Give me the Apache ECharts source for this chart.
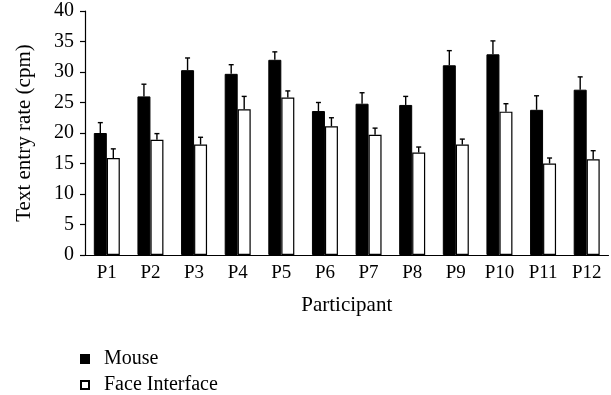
<!DOCTYPE html>
<html>
<head>
<meta charset="utf-8">
<script src="https://cdn.jsdelivr.net/npm/echarts@6/dist/echarts.min.js"></script>
<style>html,body{margin:0;padding:0;background:#fff}#c{width:611px;height:395px}</style>
</head>
<body>
<div id="c"></div>
<script>
const categories = ['P1','P2','P3','P4','P5','P6','P7','P8','P9','P10','P11','P12'];
const mouseMean = [20.0, 26.0, 30.3, 29.7, 32.0, 23.6, 24.8, 24.6, 31.1, 32.9, 23.8, 27.1];
const mouseErrTop = [21.7, 28.0, 32.3, 31.2, 33.3, 25.0, 26.6, 26.0, 33.5, 35.1, 26.1, 29.2];
const faceMean = [15.9, 18.9, 18.1, 23.9, 25.8, 21.1, 19.7, 16.8, 18.1, 23.5, 15.0, 15.7];
const faceErrTop = [17.4, 19.9, 19.3, 26.0, 26.9, 22.5, 20.8, 17.7, 19.0, 24.8, 15.9, 17.1];
const yTicks = {min: 0, max: 40, interval: 5};

const FONT = 'Liberation Serif';
const BAR_W = 13;

function errSeries(name, means, tops, shift) {
  return {
    type: 'custom',
    name: name + ' error',
    z: 3,
    silent: true,
    data: means.map((m, i) => [i, m, tops[i]]),
    encode: {x: 0, y: [1, 2]},
    renderItem: function (params, api) {
      const base = api.coord([api.value(0), api.value(1)]);
      const top = api.coord([api.value(0), api.value(2)]);
      const x = base[0] + shift;
      const style = {stroke: '#000', lineWidth: 1.4};
      return {
        type: 'group',
        children: [
          {type: 'line', shape: {x1: x, y1: base[1], x2: x, y2: top[1]}, style: style},
          {type: 'line', shape: {x1: x - 2.5, y1: top[1], x2: x + 2.5, y2: top[1]}, style: style}
        ]
      };
    }
  };
}

const chart = echarts.init(document.getElementById('c'), null, {renderer: 'canvas'});
chart.setOption({
  animation: false,
  backgroundColor: '#fff',
  textStyle: {fontFamily: FONT, color: '#000'},
  grid: {left: 85, right: 2.5, top: 11, bottom: 140, containLabel: false},
  legend: {
    orient: 'vertical',
    left: 80,
    top: 349,
    padding: 0,
    icon: 'rect',
    itemWidth: 8,
    itemHeight: 8,
    itemGap: 6,
    data: ['Mouse', 'Face Interface'],
    textStyle: {fontFamily: FONT, fontSize: 20, color: '#000', padding: [0, 0, 0, 10]}
  },
  xAxis: {
    type: 'category',
    data: categories,
    name: 'Participant',
    nameLocation: 'middle',
    nameGap: 40,
    nameTextStyle: {fontFamily: FONT, fontSize: 21, color: '#000'},
    axisLine: {lineStyle: {color: '#000', width: 1.2}},
    axisTick: {show: false},
    axisLabel: {fontFamily: FONT, fontSize: 19, color: '#000', margin: 9, interval: 0}
  },
  yAxis: {
    type: 'value',
    min: yTicks.min,
    max: yTicks.max,
    interval: yTicks.interval,
    name: 'Text entry rate (cpm)',
    nameLocation: 'middle',
    nameGap: 50,
    nameTextStyle: {fontFamily: FONT, fontSize: 21, color: '#000'},
    axisLine: {show: true, lineStyle: {color: '#000', width: 1.2}},
    axisTick: {show: true, length: 5, lineStyle: {color: '#000', width: 1.2}},
    splitLine: {show: false},
    axisLabel: {fontFamily: FONT, fontSize: 20, color: '#000', margin: 11}
  },
  series: [
    {
      name: 'Mouse', type: 'bar', data: mouseMean, barWidth: BAR_W, barGap: '0%',
      itemStyle: {color: '#000', borderColor: '#000', borderWidth: 1}
    },
    {
      name: 'Face Interface', type: 'bar', data: faceMean, barWidth: BAR_W, barGap: '0%',
      itemStyle: {color: '#fff', borderColor: '#000', borderWidth: 1.2}
    },
    errSeries('Mouse', mouseMean, mouseErrTop, -BAR_W / 2),
    errSeries('Face Interface', faceMean, faceErrTop, BAR_W / 2)
  ]
});
</script>
</body>
</html>
